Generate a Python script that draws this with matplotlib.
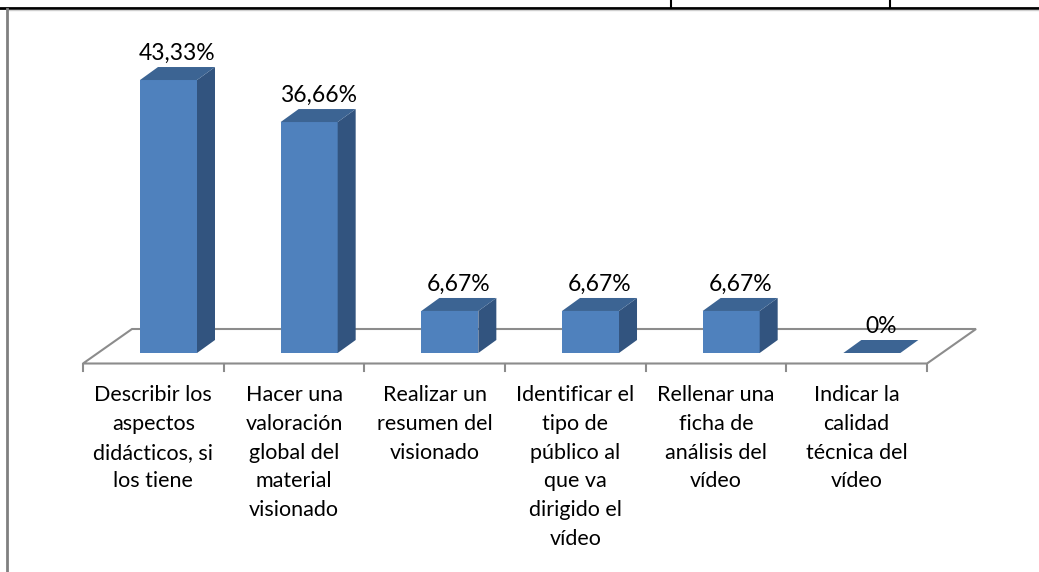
import matplotlib.pyplot as plt
from matplotlib.patches import Polygon
from matplotlib.lines import Line2D

categories = [
    "Describir los\naspectos\ndidácticos, si\nlos tiene",
    "Hacer una\nvaloración\nglobal del\nmaterial\nvisionado",
    "Realizar un\nresumen del\nvisionado",
    "Identificar el\ntipo de\npúblico al\nque va\ndirigido el\nvídeo",
    "Rellenar una\nficha de\nanálisis del\nvídeo",
    "Indicar la\ncalidad\ntécnica del\nvídeo",
]
values = [43.33, 36.66, 6.67, 6.67, 6.67, 0]
labels = ["43,33%", "36,66%", "6,67%", "6,67%", "6,67%", "0%"]

FRONT = "#4F81BD"
SIDE = "#32547F"
TOP = "#3C6493"
GRID = "#8C8C8C"

# 3D look (in data units: x = category slot, y = percent)
px_x, px_y = 140.67, 6.3
dx, dy = 18 / px_x, 13 / px_y          # bar depth
fx, fy_front, fy_back = 49 / px_x, -10.5 / px_y, 24 / px_y  # floor
bar_w = 57 / px_x
bar_shift = 57 / px_x

plt.rcParams['font.family'] = ['Lato', 'DejaVu Sans']

fig = plt.figure(figsize=(10.39, 5.72), dpi=100)
ax = fig.add_axes([0, 0, 1, 1])
ax.set_xlim(-83 / px_x, (1039 - 83) / px_x)
ax.set_ylim((353 - 572) / px_y, 353 / px_y)
ax.axis("off")

n = len(values)
# floor
floor = [(0, fy_front), (n, fy_front), (n + fx, fy_back), (fx, fy_back)]
ax.add_patch(Polygon(floor, closed=True, fill=False, edgecolor=GRID, lw=1.5))
for i in range(n + 1):
    ax.plot([i, i], [fy_front, fy_front - 7 / px_y], color=GRID, lw=1.5)

for i, (v, lab, cat) in enumerate(zip(values, labels, categories)):
    x0 = i + bar_shift
    x1 = x0 + bar_w
    front = [(x0, 0), (x1, 0), (x1, v), (x0, v)]
    side = [(x1, 0), (x1 + dx, dy), (x1 + dx, v + dy), (x1, v)]
    top = [(x0, v), (x1, v), (x1 + dx, v + dy), (x0 + dx, v + dy)]
    if v > 0:
        ax.add_patch(Polygon(front, closed=True, fc=FRONT, ec="none"))
        ax.add_patch(Polygon(side, closed=True, fc=SIDE, ec="none"))
    ax.add_patch(Polygon(top, closed=True, fc=TOP, ec="none"))
    cx = (x0 + x1) / 2
    ax.text(cx + dx / 2, v + dy + 3 / px_y, lab, ha="center", va="bottom",
            fontsize=16.5, color="black")
    ax.text(i + 0.5, (353 - 385) / px_y, cat, ha="center", va="top",
            fontsize=15.5, linespacing=1.55, color="black")

# surrounding table / frame lines
fig.add_artist(Line2D([0, 1], [1 - 8 / 572, 1 - 8 / 572], color="black", lw=2))
fig.add_artist(Line2D([8 / 1039, 1], [1 - 10 / 572, 1 - 10 / 572], color="#D0D0D0", lw=1))
fig.add_artist(Line2D([7 / 1039, 7 / 1039], [0, 1 - 9 / 572], color="#808080", lw=2))
for xp in (671, 890):
    fig.add_artist(Line2D([xp / 1039, xp / 1039], [1 - 8 / 572, 1], color="black", lw=1.5))

fig.savefig("out.png", dpi=100)
